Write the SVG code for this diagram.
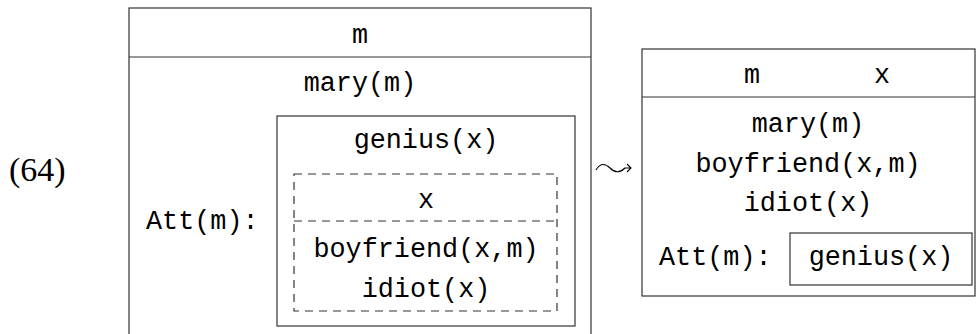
<svg xmlns="http://www.w3.org/2000/svg" width="977" height="334" viewBox="0 0 977 334">
<style>
.box{fill:none;stroke:#333;stroke-width:1.2}
.dash{fill:none;stroke:#333;stroke-width:1.2;stroke-dasharray:8 6}
.t{font-family:"Liberation Mono","DejaVu Sans Mono",monospace;font-size:26.8px;fill:#000}
.c{text-anchor:middle}
.num{font-family:"Liberation Serif","DejaVu Serif",serif;font-size:34px;fill:#000}
</style>
<rect width="977" height="334" fill="#fff"/>
<text class="num" x="9" y="181">(64)</text>
<g id="left-drs">
<rect class="box" x="129" y="8" width="462" height="340"/>
<line class="box" x1="129" y1="57" x2="591" y2="57"/>
<text class="t c" x="360" y="43">m</text>
<text class="t c" x="360" y="91">mary(m)</text>
<text class="t" x="146" y="229">Att(m):</text>
</g>
<g id="att-box">
<rect class="box" x="277" y="116" width="298" height="210"/>
<text class="t c" x="426" y="148">genius(x)</text>
</g>
<g id="dashed-drs">
<rect class="dash" x="294" y="174" width="263" height="137"/>
<line class="dash" x1="294" y1="221" x2="557" y2="221"/>
<text class="t c" x="426" y="208">x</text>
<text class="t c" x="426" y="257">boyfriend(x,m)</text>
<text class="t c" x="426" y="297">idiot(x)</text>
</g>
<g id="right-drs">
<rect class="box" x="642" y="49" width="333" height="247"/>
<line class="box" x1="642" y1="97" x2="975" y2="97"/>
<text class="t c" x="752" y="83">m</text>
<text class="t c" x="882" y="83">x</text>
<text class="t c" x="808" y="132">mary(m)</text>
<text class="t c" x="808" y="172">boyfriend(x,m)</text>
<text class="t c" x="808" y="211">idiot(x)</text>
<text class="t" x="659" y="265">Att(m):</text>
</g>
<g id="right-att-box">
<rect class="box" x="790" y="233" width="182" height="52"/>
<text class="t c" x="881" y="265">genius(x)</text>
</g>
<g id="connectors">
<path d="M596 170 C600 163 605 163 610 168 C615 173 620 173 625 168 L631 168 M627 164 L631 168 L627 172" fill="none" stroke="#000" stroke-width="1.1"/>
</g>
</svg>
